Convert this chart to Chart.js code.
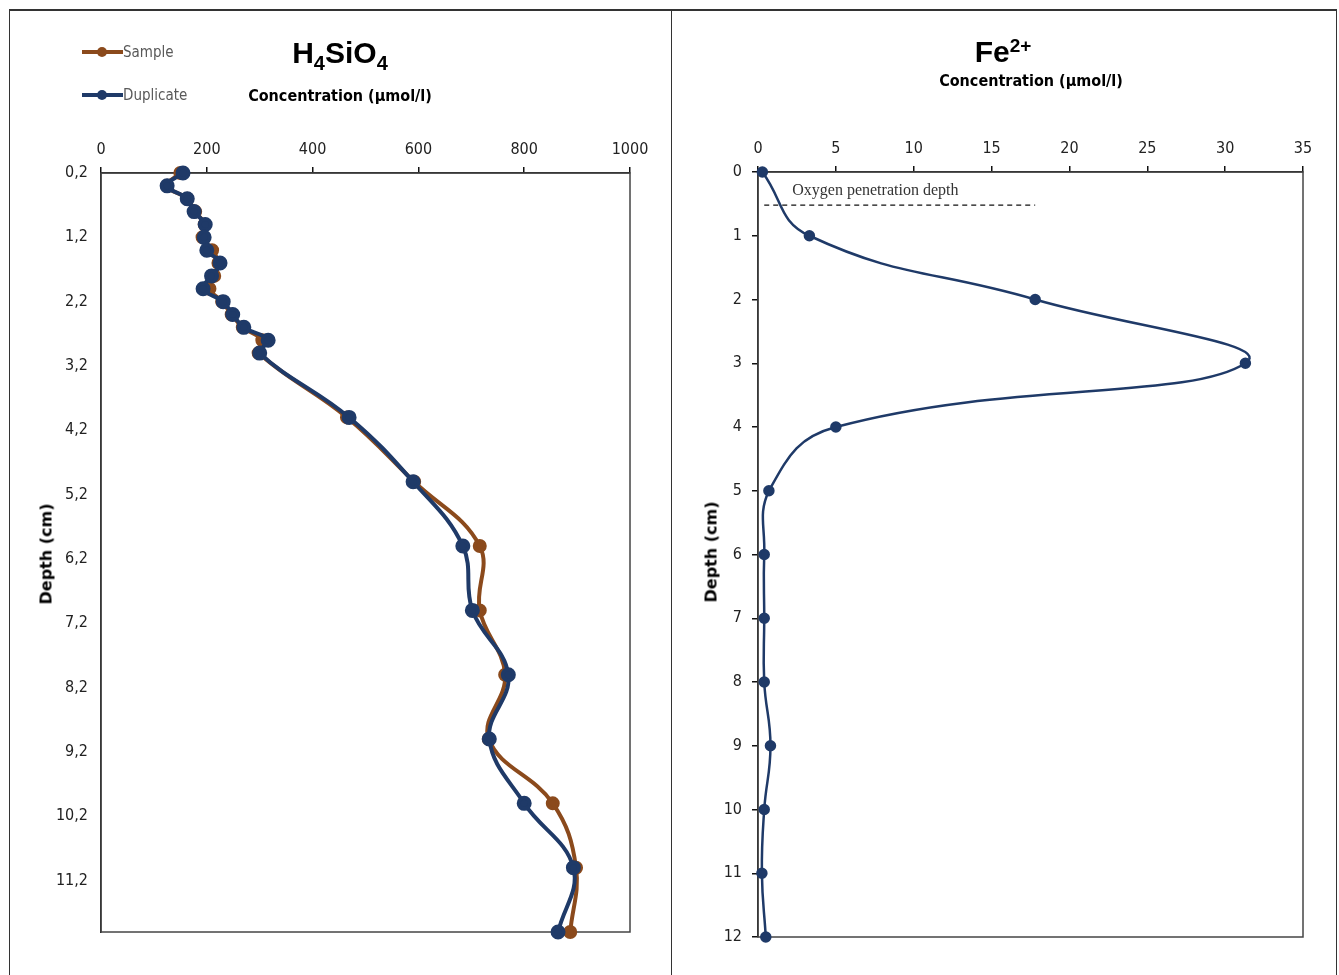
<!DOCTYPE html>
<html>
<head>
<meta charset="utf-8">
<script src="https://cdn.jsdelivr.net/npm/chart.js@4.4.1/dist/chart.umd.min.js"></script>
<style>
  body { margin: 0; background: #fff; width: 1339px; height: 975px; overflow: hidden; position: relative; font-family: "Liberation Sans", Arial, sans-serif; }
  #frame { position: absolute; left: 9px; top: 9px; width: 1328px; height: 980px; border-top: 2px solid #333; border-left: 1px solid #333; border-right: 1px solid #333; box-sizing: border-box; }
  #divider { position: absolute; left: 671px; top: 10px; width: 1px; height: 970px; background: #333; }
  canvas { position: absolute; }
  .lbl { position: absolute; white-space: nowrap; transform: translate(-50%, -50%); color: #000; }
  .big { font-weight: bold; font-size: 30px; font-family: "Liberation Sans", Arial, sans-serif; }
  .big sub { font-size: 20px; vertical-align: -7px; line-height: 0; }
  .big sup { font-size: 19px; vertical-align: 10px; line-height: 0; }
  .conc { font-weight: bold; font-size: 16px; font-family: "Liberation Sans Narrow", "DejaVu Sans Condensed", sans-serif; }
  .ytitle { font-weight: bold; font-size: 16px; font-family: "DejaVu Sans", sans-serif; transform: translate(-50%, -50%) rotate(-90deg); }
  .leg { position: absolute; height: 20px; }
  .leg .line { position: absolute; left: 0; top: 8px; width: 41px; height: 4px; }
  .leg .dot { position: absolute; left: 15px; top: 5px; width: 10px; height: 10px; border-radius: 50%; }
  .leg .txt { position: absolute; left: 41px; top: 0; font-size: 15px; color: #595959; font-family: "Liberation Sans Narrow", "DejaVu Sans Condensed", sans-serif; line-height: 20px; }
</style>
</head>
<body>
<div id="frame"></div>
<div id="divider"></div>

<canvas id="silChart" width="660" height="965" style="left:10px; top:10px;"></canvas>
<canvas id="feChart" width="666" height="965" style="left:672px; top:10px;"></canvas>

<div class="leg" style="left:82px; top:42px;">
  <div class="line" style="background:#8B4A1C"></div><div class="dot" style="background:#8B4A1C"></div>
  <div class="txt">Sample</div>
</div>
<div class="leg" style="left:82px; top:85px;">
  <div class="line" style="background:#1F3A68"></div><div class="dot" style="background:#1F3A68"></div>
  <div class="txt">Duplicate</div>
</div>

<div class="lbl big" style="left:340px; top:53px;">H<sub>4</sub>SiO<sub>4</sub></div>
<div class="lbl conc" style="left:340px; top:95px;">Concentration (µmol/l)</div>
<div class="lbl ytitle" style="left:46px; top:554px;">Depth (cm)</div>

<div class="lbl big" style="left:1003px; top:52px;">Fe<sup>2+</sup></div>
<div class="lbl conc" style="left:1031px; top:80px;">Concentration (µmol/l)</div>
<div class="lbl ytitle" style="left:711px; top:552px;">Depth (cm)</div>

<script>
// H4SiO4 profile (left panel)
const silDepth = [0.2, 0.4, 0.6, 0.8, 1.0, 1.2, 1.4, 1.6, 1.8, 2.0, 2.2, 2.4, 2.6, 2.8, 3.0, 4, 5, 6, 7, 8, 9, 10, 11, 12];
const sampleVals = [150, 125, 163, 178, 196, 192, 210, 222, 214, 205, 229, 247, 268, 305, 298, 465, 592, 716, 716, 764, 733, 854, 898, 887];
const duplicateVals = [155, 125, 163, 176, 197, 195, 200, 225, 209, 193, 231, 249, 270, 316, 300, 469, 590, 684, 702, 770, 734, 800, 893, 864];
const silDepthTicks = [0.2, 1.2, 2.2, 3.2, 4.2, 5.2, 6.2, 7.2, 8.2, 9.2, 10.2, 11.2];

// Fe2+ profile (right panel)
const feDepth = [0, 1, 2, 3, 4, 5, 6, 7, 8, 9, 10, 11, 12];
const feVals = [0.28, 3.3, 17.8, 31.3, 5.0, 0.7, 0.4, 0.4, 0.4, 0.8, 0.4, 0.25, 0.5];
const oxygenDepth = 0.52;
const oxygenLineX = [0.4, 17.8];
const oxygenLabel = "Oxygen penetration depth";

const BROWN = "#8B4A1C";
const BLUE = "#1F3A68";
const tickFont = { family: '"Liberation Sans Narrow", "DejaVu Sans Condensed", sans-serif', size: 16 };

function pts(xs, ys) {
  return xs.map((x, i) => ({ x: x, y: ys[i] }));
}

// box round the plot area
const framePlugin = {
  id: "frame",
  beforeDatasetsDraw(chart) {
    const { ctx, chartArea: a } = chart;
    ctx.save();
    ctx.strokeStyle = "#444";
    ctx.lineWidth = 1.5;
    ctx.strokeRect(a.left, a.top, a.right - a.left, a.bottom - a.top);
    ctx.restore();
  },
};

function fixSize(w, h) {
  return function (scale) {
    if (w) scale.width = w;
    if (h) scale.height = h;
  };
}

new Chart(document.getElementById("silChart"), {
  type: "scatter",
  data: {
    datasets: [
      {
        label: "Sample",
        data: pts(sampleVals, silDepth),
        showLine: true,
        borderColor: BROWN,
        backgroundColor: BROWN,
        borderWidth: 4,
        pointRadius: 5,
        tension: 0.4,
        clip: false,
        order: 2,
      },
      {
        label: "Duplicate",
        data: pts(duplicateVals, silDepth),
        showLine: true,
        borderColor: BLUE,
        backgroundColor: BLUE,
        borderWidth: 4,
        pointRadius: 5.5,
        tension: 0.4,
        clip: false,
        order: 1,
      },
    ],
  },
  options: {
    responsive: false,
    animation: false,
    layout: { padding: { left: 31, right: 40, top: 123, bottom: 43 } },
    plugins: { legend: { display: false }, tooltip: { enabled: false } },
    scales: {
      x: {
        type: "linear",
        position: "top",
        min: 0,
        max: 1000,
        afterFit: fixSize(0, 40),
        ticks: { stepSize: 200, font: tickFont, color: "#222", padding: 8, maxRotation: 0, callback: (v) => String(v) },
        grid: { drawOnChartArea: false, tickLength: 6, color: "#111", lineWidth: 1.5 },
        border: { display: true, color: "#111", width: 1.5 },
      },
      y: {
        type: "linear",
        reverse: true,
        min: 0.2,
        max: 12,
        afterFit: fixSize(60, 0),
        afterBuildTicks(scale) {
          scale.ticks = silDepthTicks.map((v) => ({ value: v }));
        },
        ticks: {
          font: tickFont,
          color: "#222",
          padding: 13,
          callback: (v) => v.toFixed(1).replace(".", ","),
        },
        grid: { drawOnChartArea: false, drawTicks: false },
        border: { display: true, color: "#111", width: 1.5 },
      },
    },
  },
  plugins: [framePlugin],
});

// text over the oxygen line
const oxygenTextPlugin = {
  id: "oxygenText",
  afterDatasetsDraw(chart) {
    const { ctx, scales } = chart;
    ctx.save();
    ctx.font = '16px "Liberation Serif", "DejaVu Serif", serif';
    ctx.fillStyle = "#333";
    ctx.textAlign = "left";
    ctx.textBaseline = "middle";
    ctx.fillText(oxygenLabel, scales.x.getPixelForValue(2.2), scales.y.getPixelForValue(0.29));
    ctx.restore();
  },
};

new Chart(document.getElementById("feChart"), {
  type: "scatter",
  data: {
    datasets: [
      {
        label: "Fe2+",
        data: pts(feVals, feDepth),
        showLine: true,
        borderColor: BLUE,
        backgroundColor: BLUE,
        borderWidth: 2.5,
        pointRadius: 4.5,
        tension: 0.45,
        clip: false,
      },
      {
        label: "Oxygen penetration depth",
        data: pts(oxygenLineX, [oxygenDepth, oxygenDepth]),
        showLine: true,
        borderColor: "#111",
        borderWidth: 1.4,
        borderDash: [5, 4],
        pointRadius: 0,
        tension: 0,
      },
    ],
  },
  options: {
    responsive: false,
    animation: false,
    layout: { padding: { left: 26, right: 35, top: 122, bottom: 38 } },
    plugins: { legend: { display: false }, tooltip: { enabled: false } },
    scales: {
      x: {
        type: "linear",
        position: "top",
        min: 0,
        max: 35,
        afterFit: fixSize(0, 40),
        ticks: { stepSize: 5, font: tickFont, color: "#222", padding: 8, maxRotation: 0 },
        grid: { drawOnChartArea: false, tickLength: 6, color: "#111", lineWidth: 1.5 },
        border: { display: true, color: "#111", width: 1.5 },
      },
      y: {
        type: "linear",
        reverse: true,
        min: 0,
        max: 12,
        afterFit: fixSize(60, 0),
        ticks: { stepSize: 1, font: tickFont, color: "#222", padding: 10 },
        grid: { drawOnChartArea: false, tickLength: 6, color: "#111", lineWidth: 1.5 },
        border: { display: true, color: "#111", width: 1.5 },
      },
    },
  },
  plugins: [framePlugin, oxygenTextPlugin],
});
</script>
</body>
</html>
